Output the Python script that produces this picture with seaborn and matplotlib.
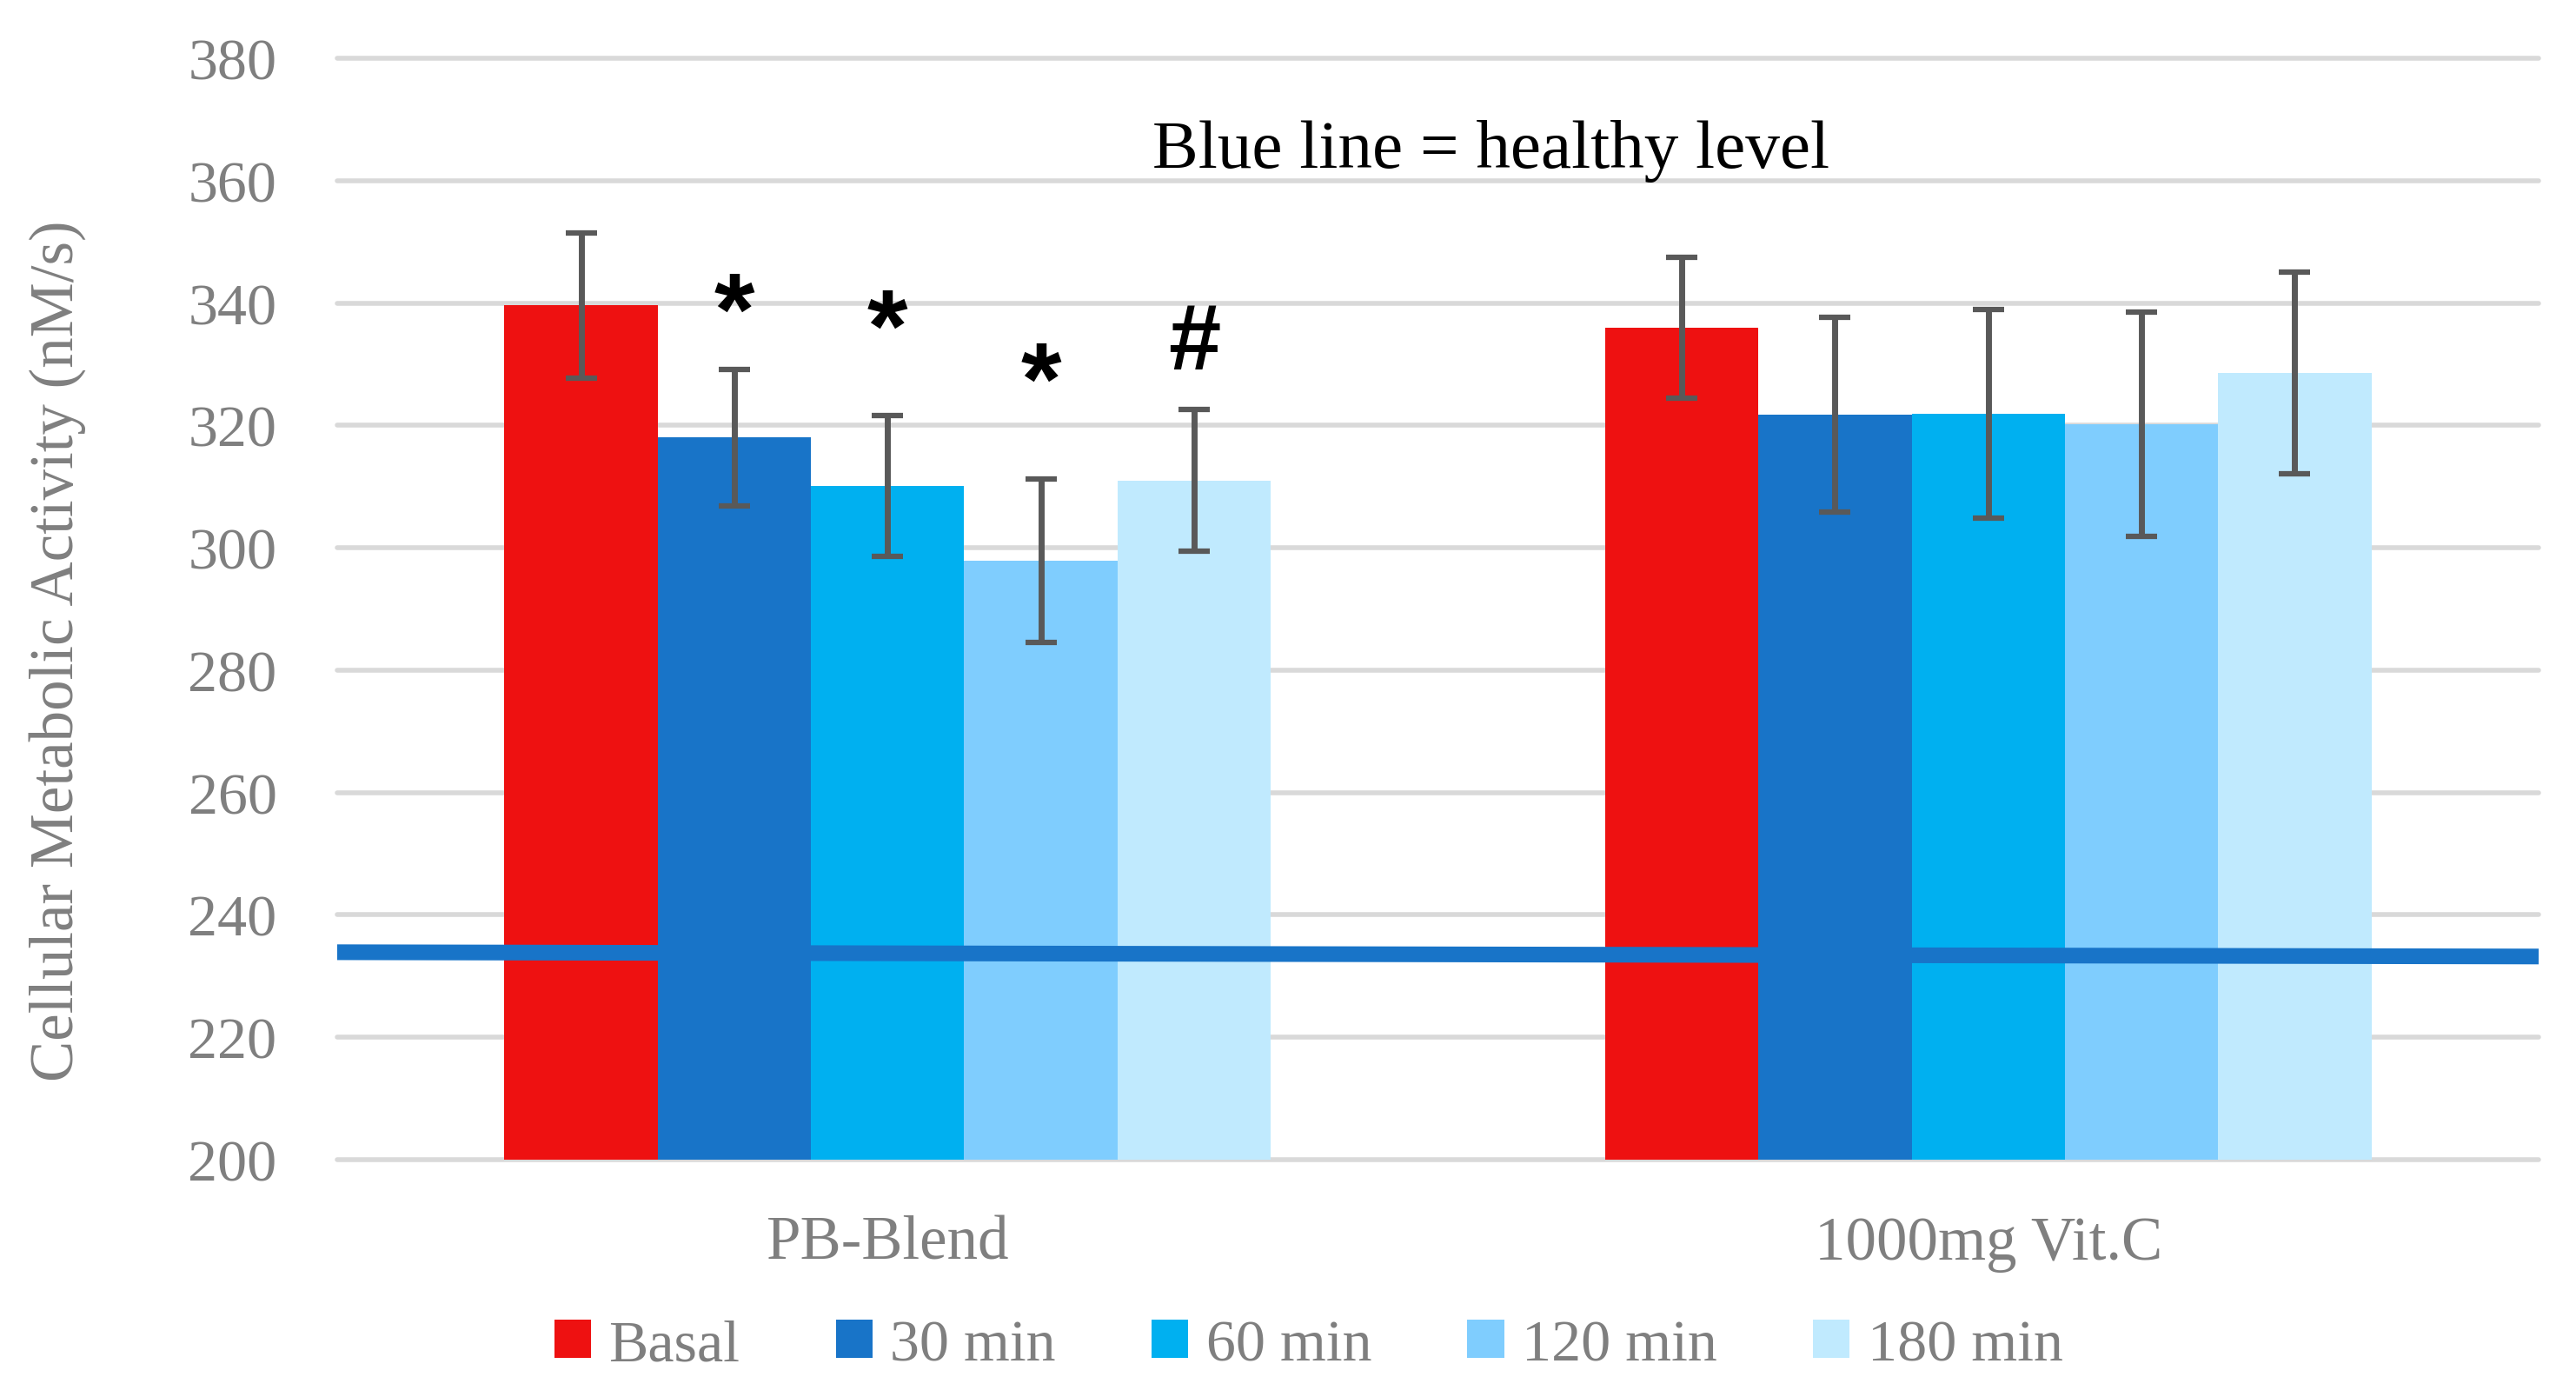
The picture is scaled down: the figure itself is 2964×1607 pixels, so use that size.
import matplotlib
matplotlib.use('Agg')
import matplotlib.pyplot as plt
import pandas as pd
import seaborn as sns

# data
groups = ['PB-Blend', '1000mg Vit.C']
times = ['Basal', '30 min', '60 min', '120 min', '180 min']
pb_means = [339.6, 318.0, 310.1, 297.9, 311.0]
pb_errs = [11.9, 11.2, 11.5, 13.4, 11.6]
vitc_means = [336.0, 321.8, 321.9, 320.2, 328.6]
vitc_errs = [11.5, 15.9, 17.0, 18.3, 16.5]
bar_colors = ['#EE1111', '#1874C8', '#00B0F0', '#7FCDFE', '#C0EAFE']
sig_marks = ['*', '*', '*', '#']  # PB-Blend 30, 60, 120, 180 min
sig_y = [337.6, 335.0, 326.3, 333.3]
healthy_level = [233.9, 233.2]  # left and right end of the blue line
y_ticks = list(range(200, 381, 20))

rows = []
for g, means, errs in [(groups[0], pb_means, pb_errs), (groups[1], vitc_means, vitc_errs)]:
    for t, m, e in zip(times, means, errs):
        rows.append({'group': g, 'time': t, 'value': m, 'err': e})
df = pd.DataFrame(rows)

sns.set_style('white')
plt.rcParams['font.family'] = ['Liberation Serif', 'DejaVu Serif']

fig, ax = plt.subplots(figsize=(29.64, 16.08), dpi=100)
fig.subplots_adjust(left=0.1309, right=0.9855, bottom=0.1698, top=0.9577)

sns.barplot(data=df, x='group', y='value', hue='time', order=groups, hue_order=times,
            palette=bar_colors, saturation=1, width=0.696, errorbar=None, ax=ax,
            zorder=2, linewidth=0, edgecolor='none')

# error bars on top of the seaborn bars
xs, ys, es = [], [], []
for cont, t in zip(ax.containers, times):
    for bar, g in zip(cont, groups):
        row = df[(df['group'] == g) & (df['time'] == t)].iloc[0]
        xs.append(bar.get_x() + bar.get_width() / 2)
        ys.append(row['value'])
        es.append(row['err'])
ax.errorbar(xs, ys, yerr=es, fmt='none', ecolor='#595959', elinewidth=5,
            capsize=13, capthick=4.5, zorder=3)

# significance marks above PB-Blend bars
for cont, mark, y in zip(ax.containers[1:], sig_marks, sig_y):
    bar = cont[0]
    size = 86 if mark == '*' else 78
    ax.text(bar.get_x() + bar.get_width() / 2, y, mark, ha='center', va='center',
            fontsize=size, fontweight='bold', family='Liberation Sans', color='black', zorder=5)

# healthy level line
ax.plot([-0.5, 1.5], healthy_level, color='#1874C8', linewidth=13,
        solid_capstyle='butt', zorder=4, clip_on=False)
ax.text(0.524, 0.916, 'Blue line = healthy level', transform=ax.transAxes,
        ha='center', va='center', fontsize=57, color='black')

ax.set_xlim(-0.5, 1.5)
ax.set_ylim(200, 380)
ax.set_yticks(y_ticks)
ax.set_axisbelow(True)
ax.yaxis.grid(True, color='#D9D9D9', linewidth=4)
for gl in ax.get_ygridlines():
    gl.set_clip_on(False)
ax.tick_params(axis='y', length=0, pad=50, labelsize=49, labelcolor='#7F7F7F')
ax.tick_params(axis='x', length=0, pad=46, labelsize=51, labelcolor='#7F7F7F')
ax.set_xlabel('')
ax.set_ylabel('Cellular Metabolic Activity (nM/s)', fontsize=51, color='#7F7F7F')
ax.yaxis.label.set_verticalalignment('center')
ax.yaxis.set_label_coords(-0.127, 0.463)
sns.despine(ax=ax, left=True, bottom=True)

sns.move_legend(ax, 'center', bbox_to_anchor=(0.508, 0.037), bbox_transform=fig.transFigure,
                ncol=5, frameon=False, title=None, fontsize=49, handlelength=0.62,
                handleheight=0.62, handletextpad=0.3, columnspacing=1.62, labelcolor='#7F7F7F')

fig.savefig('out.png', dpi=100)
